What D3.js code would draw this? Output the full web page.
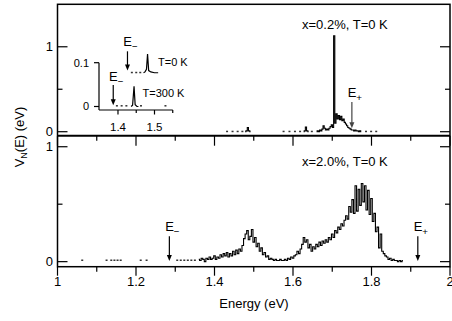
<!DOCTYPE html>
<html>
<head>
<meta charset="utf-8">
<script src="https://cdn.jsdelivr.net/npm/d3@7"></script>
<style>
  body{margin:0;background:#fff;}
  svg{display:block;font-family:"Liberation Sans",Arial,Helvetica,sans-serif;}
</style>
</head>
<body>
<svg id="chart" width="452" height="321"></svg>
<script>
// x axis ticks (eV)
var xMajor = [1, 1.2, 1.4, 1.6, 1.8, 2];
var xMinor = [1.1, 1.3, 1.5, 1.7, 1.9];
var xTickLabels = ["1", "1.2", "1.4", "1.6", "1.8", "2"];

// upper panel, x = 0.2 %, T = 0 K : [energy, V_N] pairs, null = gap
var topSpectrum = [
  [1.478, 0], [1.482, 0.01], [1.485, 0.05], [1.488, 0.01], [1.492, 0], null,
  [1.627, 0], [1.630, 0.01], [1.633, 0.055], [1.636, 0.01], [1.640, 0], null,
  [1.660, 0], [1.663, 0.01], [1.666, 0], [1.669, 0.02], [1.672, 0.01], [1.675, 0.03],
  [1.678, 0.07], [1.681, 0.04], [1.684, 0.02], [1.687, 0.03], [1.690, 0.02], [1.693, 0.04],
  [1.696, 0.06], [1.699, 0.08], [1.702, 0.05], [1.705, 1.13], [1.708, 0.10], [1.711, 0.21],
  [1.714, 0.15], [1.717, 0.19], [1.720, 0.14], [1.723, 0.18], [1.726, 0.13], [1.729, 0.15],
  [1.732, 0.11], [1.735, 0.09], [1.738, 0.07], [1.741, 0.05], [1.744, 0.04], [1.747, 0.03],
  [1.750, 0.02], [1.753, 0.02], [1.756, 0.01], [1.759, 0.02], [1.762, 0.01], [1.765, 0.01],
  [1.768, 0], [1.771, 0.01], [1.774, 0]
];
var topDots = [1.432, 1.446, 1.459, 1.471, 1.576, 1.591, 1.605, 1.618, 1.648,
  1.786, 1.799, 1.812];

// lower panel, x = 2.0 %, T = 0 K : values on a 0.004 eV grid from 1.360 eV
var botStart = 1.36, botStep = 0.004;
var botValues = [
  0.02, 0.01, 0.03, 0.02, 0.00, 0.03, 0.02, 0.04, 0.02, 0.03,
  0.05, 0.02, 0.04, 0.03, 0.06, 0.04, 0.07, 0.05, 0.08, 0.04,
  0.07, 0.05, 0.09, 0.06, 0.10, 0.07, 0.11, 0.09, 0.14, 0.20,
  0.24, 0.27, 0.19, 0.22, 0.28, 0.17, 0.21, 0.13, 0.16, 0.09,
  0.12, 0.06, 0.08, 0.04, 0.05, 0.02, 0.03, 0.02, 0.01, 0.02,
  0.01, 0.01, 0.02, 0.01, 0.01, 0.02, 0.01, 0.03, 0.02, 0.04,
  0.03, 0.05, 0.06, 0.09, 0.07, 0.11, 0.15, 0.21, 0.17, 0.19,
  0.12, 0.15, 0.09, 0.13, 0.11, 0.15, 0.13, 0.17, 0.14, 0.18,
  0.16, 0.19, 0.17, 0.21, 0.19, 0.24, 0.21, 0.27, 0.25, 0.30,
  0.28, 0.33, 0.31, 0.36, 0.40, 0.37, 0.48, 0.43, 0.54, 0.42,
  0.66, 0.44, 0.63, 0.49, 0.68, 0.52, 0.66, 0.45, 0.62, 0.41,
  0.55, 0.35, 0.42, 0.26, 0.30, 0.12, 0.24, 0.09, 0.07, 0.05,
  0.04, 0.02, 0.03, 0.01, 0.02, 0.01, 0.01, 0.00, 0.01, 0.00,
  0.01
];
var botDots = [1.063, 1.125, 1.137, 1.145, 1.153, 1.161, 1.212, 1.227,
  1.305, 1.314, 1.323, 1.332, 1.341, 1.350];

// inset (x = 0.2 %), two temperatures, T=0 K curve offset upward
var inset300 = [[1.436, 0], [1.440, 0.003], [1.444, 0.046], [1.447, 0.004], [1.452, 0], [1.456, 0]];
var inset300Dots = [1.397, 1.410, 1.423, 1.463, 1.530];
var inset0 = [[1.470, 0], [1.474, 0.002], [1.478, 0.008], [1.481, 0.043], [1.484, 0.005], [1.490, 0.002], [1.500, 0], [1.510, 0]];
var inset0Dots = [1.438, 1.450, 1.461];
var inset0Offset = 0.077;
var insetXTicks = [1.4, 1.5];
var insetXMinor = [1.45, 1.55];
var insetYTicks = [0, 0.1];

// band edges and arrows
var arrows = [
  {panel: "top", e: 1.75, y0: 0.35, y1: 0.04, label: "+", color: "#444"},
  {panel: "bot", e: 1.285, y0: 0.22, y1: 0.005, label: "\u2212", color: "#000"},
  {panel: "bot", e: 1.918, y0: 0.22, y1: 0.005, label: "+", color: "#000"}
];
var insetArrows = [
  {e: 1.387, y0: 0.049, y1: 0.003, yl: 0.058},
  {e: 1.426, y0: 0.126, y1: 0.082, yl: 0.139}
];

var svg = d3.select("#chart");
var L = 57.5, R = 450, T = 4.3, M = 135.7, B = 266.7;
var x = d3.scaleLinear().domain([1, 2]).range([L, R]);
var yTop = d3.scaleLinear().domain([-0.047, 1.5]).range([M, T]);
var yBot = d3.scaleLinear().domain([-0.044, 1.096]).range([B, M]);

function panelTicks(y, yMaj, yMin) {
  yMaj.forEach(function(v){
    svg.append("line").attr("x1", L).attr("x2", L + 10).attr("y1", y(v)).attr("y2", y(v)).attr("stroke", "#000").attr("stroke-width", 1.2);
    svg.append("line").attr("x1", R - 10).attr("x2", R).attr("y1", y(v)).attr("y2", y(v)).attr("stroke", "#000").attr("stroke-width", 1.2);
    svg.append("text").attr("x", 53).attr("y", y(v)).attr("dy", "0.36em").attr("text-anchor", "end").attr("font-size", "13px").text(v);
  });
  yMin.forEach(function(v){
    svg.append("line").attr("x1", L).attr("x2", L + 5).attr("y1", y(v)).attr("y2", y(v)).attr("stroke", "#000").attr("stroke-width", 1.2);
    svg.append("line").attr("x1", R - 5).attr("x2", R).attr("y1", y(v)).attr("y2", y(v)).attr("stroke", "#000").attr("stroke-width", 1.2);
  });
}
panelTicks(yTop, [0, 1], [0.5]);
panelTicks(yBot, [0, 1], [0.5]);

// x ticks: at the middle divider (pointing down) and at the bottom (pointing down)
[M, B].forEach(function(yy, k){
  xMajor.forEach(function(v){
    svg.append("line").attr("x1", x(v)).attr("x2", x(v)).attr("y1", yy).attr("y2", yy + (k ? 9 : 10)).attr("stroke", "#000").attr("stroke-width", 1.2);
  });
  xMinor.forEach(function(v){
    svg.append("line").attr("x1", x(v)).attr("x2", x(v)).attr("y1", yy).attr("y2", yy + 5).attr("stroke", "#000").attr("stroke-width", 1.2);
  });
});
xMajor.forEach(function(v, i){
  svg.append("text").attr("x", x(v)).attr("y", 286).attr("text-anchor", "middle").attr("font-size", "13px").text(xTickLabels[i]);
});

// frame
svg.append("rect").attr("x", L).attr("y", T).attr("width", R - L).attr("height", B - T).attr("fill", "none").attr("stroke", "#000").attr("stroke-width", 1.5);
svg.append("line").attr("x1", L).attr("x2", R).attr("y1", M).attr("y2", M).attr("stroke", "#000").attr("stroke-width", 2);

// spectra
var topLine = d3.line().defined(function(d){ return d !== null; })
  .x(function(d){ return x(d[0]); }).y(function(d){ return yTop(d[1]); }).curve(d3.curveStep);
svg.append("path").attr("d", topLine(topSpectrum)).attr("fill", "none").attr("stroke", "#000").attr("stroke-width", 1.1);

var botLine = d3.line().x(function(d, i){ return x(botStart + i * botStep); }).y(function(d){ return yBot(d); }).curve(d3.curveStep);
svg.append("path").attr("d", botLine(botValues)).attr("fill", "none").attr("stroke", "#000").attr("stroke-width", 1.1);

function dots(list, xs, ys, base) {
  list.forEach(function(e){
    svg.append("rect").attr("x", xs(e) - 1).attr("y", ys(base) - 1).attr("width", 2).attr("height", 1.5).attr("fill", "#333");
  });
}
dots(topDots, x, yTop, 0);
dots(botDots, x, yBot, 0.01);

function arrow(xp, ya, yb, col) {
  svg.append("line").attr("x1", xp).attr("x2", xp).attr("y1", ya).attr("y2", yb - 5).attr("stroke", col).attr("stroke-width", 1.2);
  svg.append("path").attr("d", "M" + (xp - 2.5) + "," + (yb - 6) + "L" + (xp + 2.5) + "," + (yb - 6) + "L" + xp + "," + yb + "Z").attr("fill", col);
}
function eLabel(xp, yp, sub, size) {
  var t = svg.append("text").attr("x", xp).attr("y", yp).attr("text-anchor", "middle").attr("font-size", size + "px");
  t.append("tspan").text("E");
  t.append("tspan").attr("dy", size * 0.3).attr("font-size", (size * 0.75) + "px").text(sub);
}
arrows.forEach(function(a){
  var ys = a.panel === "top" ? yTop : yBot;
  arrow(x(a.e), ys(a.y0), ys(a.y1), a.color);
  eLabel(x(a.e) + 3, ys(a.y0) - 5, a.label, 13);
});

// panel annotations
svg.append("text").attr("x", 302).attr("y", 28.5).attr("font-size", "13px").text("x=0.2%, T=0 K");
svg.append("text").attr("x", 302).attr("y", 166).attr("font-size", "13px").text("x=2.0%, T=0 K");

// axis titles
svg.append("text").attr("x", 254).attr("y", 307.5).attr("text-anchor", "middle").attr("font-size", "13px").text("Energy (eV)");
var yl = svg.append("text").attr("transform", "translate(24,137) rotate(-90)").attr("text-anchor", "middle").attr("font-size", "13px");
yl.append("tspan").text("V");
yl.append("tspan").attr("dy", 3).attr("font-size", "9px").text("N");
yl.append("tspan").attr("dy", -3).text("(E) (eV)");

// inset
var ix = d3.scaleLinear().domain([1.348, 1.55]).range([99, 172.75]);
var iy = d3.scaleLinear().domain([-0.008, 0.1]).range([110, 62.7]);
svg.append("line").attr("x1", ix(1.348)).attr("x2", ix(1.348)).attr("y1", iy(0.1)).attr("y2", iy(-0.008)).attr("stroke", "#000").attr("stroke-width", 1.2);
svg.append("line").attr("x1", ix(1.348)).attr("x2", ix(1.55)).attr("y1", iy(-0.008)).attr("y2", iy(-0.008)).attr("stroke", "#000").attr("stroke-width", 1.2);
insetYTicks.forEach(function(v){
  svg.append("line").attr("x1", 94).attr("x2", 99).attr("y1", iy(v)).attr("y2", iy(v)).attr("stroke", "#000").attr("stroke-width", 1.2);
  svg.append("text").attr("x", 89).attr("y", iy(v)).attr("dy", "0.36em").attr("text-anchor", "end").attr("font-size", "11px").text(v);
});
insetXTicks.forEach(function(v){
  svg.append("line").attr("x1", ix(v)).attr("x2", ix(v)).attr("y1", 110).attr("y2", 114.5).attr("stroke", "#000").attr("stroke-width", 1.2);
  svg.append("text").attr("x", ix(v)).attr("y", 131).attr("text-anchor", "middle").attr("font-size", "11.5px").text(v);
});
insetXMinor.forEach(function(v){
  svg.append("line").attr("x1", ix(v)).attr("x2", ix(v)).attr("y1", 110).attr("y2", 113).attr("stroke", "#000").attr("stroke-width", 1.2);
});
var iLine = d3.line().x(function(d){ return ix(d[0]); }).y(function(d){ return iy(d[1]); });
var iLine0 = d3.line().x(function(d){ return ix(d[0]); }).y(function(d){ return iy(d[1] + inset0Offset); });
svg.append("path").attr("d", iLine(inset300)).attr("fill", "none").attr("stroke", "#000").attr("stroke-width", 1.2);
svg.append("path").attr("d", iLine0(inset0)).attr("fill", "none").attr("stroke", "#000").attr("stroke-width", 1.2);
dots(inset300Dots, ix, iy, 0.001);
dots(inset0Dots, ix, iy, inset0Offset);
insetArrows.forEach(function(a){
  arrow(ix(a.e), iy(a.y0), iy(a.y1), "#000");
  eLabel(ix(a.e) + 3, iy(a.yl), "\u2212", 13);
});
svg.append("text").attr("x", 158).attr("y", 66).attr("font-size", "11px").text("T=0 K");
svg.append("text").attr("x", 142.5).attr("y", 97).attr("font-size", "11px").text("T=300 K");
</script>
</body>
</html>
